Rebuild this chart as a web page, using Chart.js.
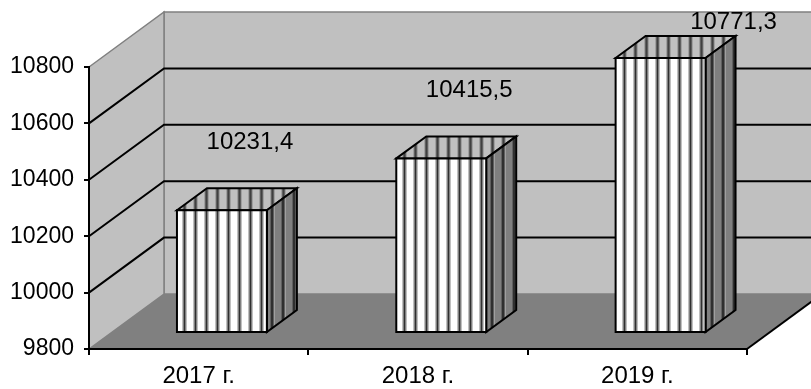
<!DOCTYPE html>
<html>
<head>
<meta charset="utf-8">
<script src="https://cdn.jsdelivr.net/npm/chart.js@4.4.1/dist/chart.umd.min.js"></script>
<style>
  html, body { margin: 0; padding: 0; background: #fff; }
  #wrap { width: 811px; height: 389px; }
</style>
</head>
<body>
<div id="wrap"><canvas id="chart"></canvas></div>
<script>
// данные
const categories = ['2017 г.', '2018 г.', '2019 г.'];
const values = [10231.4, 10415.5, 10771.3];
const valueLabels = ['10231,4', '10415,5', '10771,3'];
const yMin = 9800;
const yMax = 10800;
const yStep = 200;

const FONT = '"Liberation Sans", Arial, sans-serif';
const DEPTH_X = 75, DEPTH_Y = -55;     // глубина 3D-пространства
const BAR_FRONT = 0.31, BAR_DEPTH = 0.4; // положение столбца по глубине

// полосатая заливка
function stripes(bg, cols) {
    const c = document.createElement('canvas');
    c.width = cols.length + 6; c.height = 4;
    const g = c.getContext('2d');
    g.fillStyle = bg; g.fillRect(0, 0, c.width, 4);
    cols.forEach((col, i) => { g.fillStyle = col; g.fillRect(6 + i, 0, 1, 4); });
    return g.createPattern(c, 'repeat');
}

function poly(ctx, pts, fill, stroke, lw) {
    ctx.beginPath();
    ctx.moveTo(pts[0][0], pts[0][1]);
    for (let i = 1; i < pts.length; i++) ctx.lineTo(pts[i][0], pts[i][1]);
    ctx.closePath();
    if (fill) { ctx.fillStyle = fill; ctx.fill(); }
    if (stroke) { ctx.strokeStyle = stroke; ctx.lineWidth = lw || 1; ctx.stroke(); }
}

const box3d = {
    id: 'box3d',
    beforeDraw(chart) {
        const ctx = chart.ctx;
        const { left, right, top, bottom } = chart.chartArea;
        const y = chart.scales.y;
        ctx.save();
        ctx.fillStyle = '#fff';
        ctx.fillRect(0, 0, chart.width, chart.height);
        // задняя стена
        poly(ctx, [[left + DEPTH_X, top + DEPTH_Y], [right + DEPTH_X, top + DEPTH_Y],
                   [right + DEPTH_X, bottom + DEPTH_Y], [left + DEPTH_X, bottom + DEPTH_Y]], '#c0c0c0', '#808080', 1.5);
        // боковая стена
        poly(ctx, [[left, top], [left + DEPTH_X, top + DEPTH_Y],
                   [left + DEPTH_X, bottom + DEPTH_Y], [left, bottom]], '#c0c0c0', '#808080', 1.5);
        // пол
        poly(ctx, [[left, bottom], [left + DEPTH_X, bottom + DEPTH_Y],
                   [right + DEPTH_X, bottom + DEPTH_Y], [right, bottom]], '#808080', null);
        ctx.strokeStyle = '#000'; ctx.lineWidth = 2;
        ctx.beginPath();
        ctx.moveTo(right, bottom); ctx.lineTo(right + DEPTH_X, bottom + DEPTH_Y);
        ctx.stroke();
        // линии сетки
        for (let v = yMin + yStep; v < yMax; v += yStep) {
            const py = y.getPixelForValue(v);
            ctx.beginPath();
            ctx.moveTo(left, py);
            ctx.lineTo(left + DEPTH_X, py + DEPTH_Y);
            ctx.lineTo(right + DEPTH_X, py + DEPTH_Y);
            ctx.stroke();
        }
        ctx.restore();
    },
    afterDatasetsDraw(chart) {
        const ctx = chart.ctx;
        const meta = chart.getDatasetMeta(0);
        const base = chart.scales.y.getPixelForValue(yMin);
        const fx = DEPTH_X * BAR_FRONT, fy = DEPTH_Y * BAR_FRONT;
        const bx = DEPTH_X * BAR_DEPTH, by = DEPTH_Y * BAR_DEPTH;
        const frontFill = stripes('#fff', ['#c0c0c0', '#808080', '#303030', '#808080', '#c0c0c0']);
        const topFill = stripes('#c0c0c0', ['#a0a0a0', '#606060', '#404040', '#606060', '#a0a0a0']);
        const sideFill = stripes('#808080', ['#606060', '#303030', '#303030', '#606060', '#a0a0a0']);
        ctx.save();
        meta.data.forEach((el, i) => {
            const p = el.getProps(['x', 'y', 'width'], true);
            const x0 = p.x - p.width / 2 + fx, x1 = p.x + p.width / 2 + fx;
            const t = p.y + fy, b = base + fy;
            ctx.lineJoin = 'miter';
            poly(ctx, [[x0, t], [x0 + bx, t + by], [x1 + bx, t + by], [x1, t]], topFill, '#000', 2);
            poly(ctx, [[x1, t], [x1 + bx, t + by], [x1 + bx, b + by], [x1, b]], sideFill, '#000', 2);
            poly(ctx, [[x0, t], [x1, t], [x1, b], [x0, b]], frontFill, '#000', 2);

            // подпись значения
            let lx = p.x + fx + bx - 2, ly = p.y - 85;
            if (ly < 22) { ly = 22; lx += p.width / 2; }
            ctx.font = '24px ' + FONT;
            ctx.fillStyle = '#000';
            ctx.textAlign = 'center';
            ctx.textBaseline = 'middle';
            ctx.fillText(valueLabels[i], lx, ly);
        });
        ctx.restore();
    }
};

new Chart(document.getElementById('chart'), {
    type: 'bar',
    data: {
        labels: categories,
        datasets: [{
            data: values,
            base: yMin,
            backgroundColor: 'rgba(0,0,0,0)',
            borderWidth: 0,
            categoryPercentage: 1,
            barPercentage: 0.41
        }]
    },
    options: {
        responsive: true,
        maintainAspectRatio: false,
        animation: false,
        layout: { padding: { top: 67, right: 64, left: 0, bottom: 0 } },
        plugins: { legend: { display: false }, tooltip: { enabled: false } },
        scales: {
            x: {
                afterFit: (s) => { s.height = 40; },
                grid: { drawOnChartArea: false, color: '#000', tickColor: '#000', tickLength: 6, lineWidth: 2 },
                border: { color: '#000', width: 2 },
                ticks: { color: '#000', font: { family: FONT, size: 24 }, padding: 7, maxRotation: 0 }
            },
            y: {
                min: yMin,
                max: yMax,
                afterFit: (s) => { s.width = 89; },
                grid: { drawOnChartArea: false, color: '#000', tickColor: '#000', tickLength: 5, lineWidth: 2 },
                border: { color: '#000', width: 2 },
                ticks: {
                    stepSize: yStep, color: '#000', font: { family: FONT, size: 23 }, padding: 10,
                    callback: (v) => String(v)
                }
            }
        }
    },
    plugins: [box3d]
});
</script>
</body>
</html>
